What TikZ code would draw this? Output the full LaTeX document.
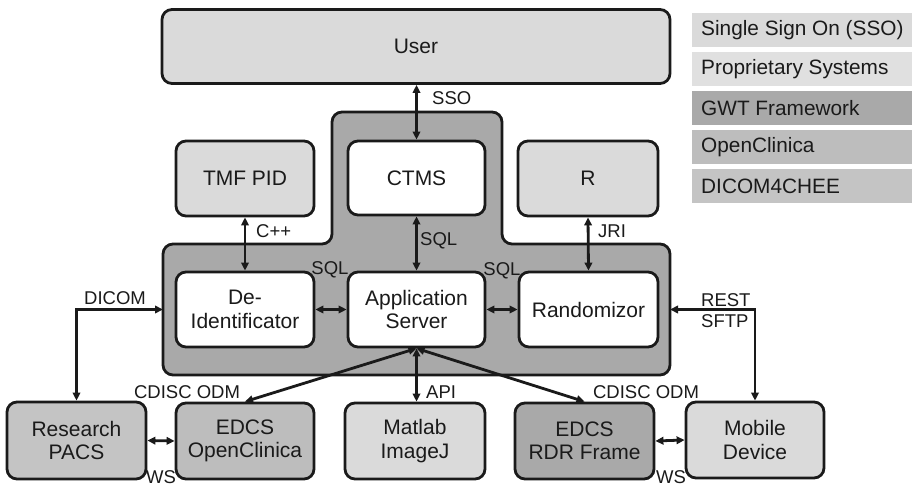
\documentclass[tikz,border=0pt]{standalone}
\usepackage{fontspec}
\setmainfont{Liberation Sans}
\usetikzlibrary{arrows.meta}
\definecolor{lightg}{HTML}{DADADA}
\definecolor{gwtg}{HTML}{A9A9A9}
\definecolor{ocg}{HTML}{BDBDBD}
\definecolor{dcmg}{HTML}{C4C4C4}
\definecolor{ink}{HTML}{1A1A1A}
\begin{document}
\begin{tikzpicture}[x=1pt,y=-1pt,
  box/.style={draw=ink,line width=2.8pt,rounded corners=10pt,inner sep=2pt,align=center,
    font=\fontsize{21}{23.5}\selectfont,text=ink},
  wbox/.style={box,fill=white},
  gbox/.style={box,fill=lightg},
  arr/.style={draw=ink,line width=2.8pt,{Triangle[length=8pt,width=7.5pt]}-{Triangle[length=8pt,width=7.5pt]}},
  lbl/.style={font=\fontsize{18.5}{20}\selectfont,text=ink,inner sep=0pt},
  leg/.style={minimum width=220pt,minimum height=34pt,inner sep=0pt,anchor=west},
  legtext/.style={font=\fontsize{20.8}{23}\selectfont,text=ink,inner sep=0pt,anchor=west}
]
\useasboundingbox (0,0) rectangle (912,486);
% GWT frame
\draw[fill=gwtg,draw=ink,line width=2.8pt,rounded corners=10pt]
  (163,375) -- (163,244) -- (332,244) -- (332,112) -- (502,112) -- (502,244) -- (670,244) -- (670,375) -- cycle;
\coordinate (fl) at (163,309.5);
\coordinate (fr) at (670,309.5);
% nodes
\node[gbox,minimum width=508pt,minimum height=74pt] (User) at (416,46.5) {User};
\node[gbox,minimum width=138pt,minimum height=75pt] (TMF) at (245,178.5) {TMF PID};
\node[wbox,minimum width=137pt,minimum height=74pt] (CTMS) at (416.5,178) {CTMS};
\node[gbox,minimum width=140pt,minimum height=75pt] (R) at (588,178.5) {R};
\node[wbox,minimum width=138pt,minimum height=75pt] (DeId) at (245,309.5) {De-\\Identificator};
\node[wbox,minimum width=137pt,minimum height=75pt] (App) at (416.5,309.5) {Application\\Server};
\node[wbox,minimum width=139pt,minimum height=75pt] (Rand) at (588.5,309.5) {Randomizor};
\node[box,fill=dcmg,minimum width=139pt,minimum height=77pt] (PACS) at (76.5,440.5) {Research\\PACS};
\node[box,fill=ocg,minimum width=138pt,minimum height=76pt] (EOC) at (245,441) {EDCS\\OpenClinica};
\node[gbox,minimum width=140pt,minimum height=76pt] (Mat) at (415,441) {Matlab\\ImageJ};
\node[box,fill=gwtg,minimum width=139pt,minimum height=76pt] (RDR) at (584.5,441) {EDCS\\RDR Frame};
\node[gbox,minimum width=138pt,minimum height=76pt] (Mob) at (755,440) {Mobile\\Device};
% connectors
\draw[arr] (CTMS.north) -- (CTMS.north |- User.south);
\draw[arr] (TMF.south) -- (DeId.north);
\draw[arr] (CTMS.south) -- (App.north);
\draw[arr] (R.south) -- (Rand.north);
\draw[arr] (DeId.east) -- (App.west);
\draw[arr] (App.east) -- (Rand.west);
\draw[arr] (App.south) -- (Mat.north -| App.south);
\draw[arr] (App.south) -- (EOC.north);
\draw[arr] (App.south) -- (RDR.north);
\draw[arr] (fl) -| (PACS.north);
\draw[arr] (fr) -| (Mob.north);
\draw[arr] (PACS.east) -- (EOC.west);
\draw[arr] (RDR.east) -- (Mob.west);
% labels
\node[lbl,anchor=west] (lsso) at (432,98) {SSO};
\node[lbl,anchor=west] (lcpp) at (256,231) {C++};
\node[lbl,anchor=west] (lsql1) at (420,241) {SQL};
\node[lbl,anchor=west] (ljri) at (598,231) {JRI};
\node[lbl] (lsql2) at (330,270) {SQL};
\node[lbl] (lsql3) at (502,271) {SQL};
\node[lbl] (ldicom) at (115,298) {DICOM};
\node[lbl,anchor=west,align=left,font=\fontsize{18.5}{21}\selectfont] (lrest) at (701,310.5) {REST\\SFTP};
\node[lbl] (lodm1) at (187,392) {CDISC ODM};
\node[lbl,anchor=west] (lapi) at (426,392) {API};
\node[lbl] (lodm2) at (646,392) {CDISC ODM};
\node[lbl] (lws1) at (161,477) {WS};
\node[lbl] (lws2) at (671,477) {WS};
% legend
\node[leg,fill=lightg] (g1) at (692,30) {};
\node[leg,fill=lightg!85!white] (g2) at (692,69) {};
\node[leg,fill=gwtg] (g3) at (692,108) {};
\node[leg,fill=ocg] (g4) at (692,147) {};
\node[leg,fill=dcmg] (g5) at (692,186) {};
\node[legtext] (t1) at (701,30) {Single Sign On (SSO)};
\node[legtext] (t2) at (701,69) {Proprietary Systems};
\node[legtext] (t3) at (701,108) {GWT Framework};
\node[legtext] (t4) at (701,147) {OpenClinica};
\node[legtext] (t5) at (701,186) {DICOM4CHEE};
\end{tikzpicture}
\end{document}
